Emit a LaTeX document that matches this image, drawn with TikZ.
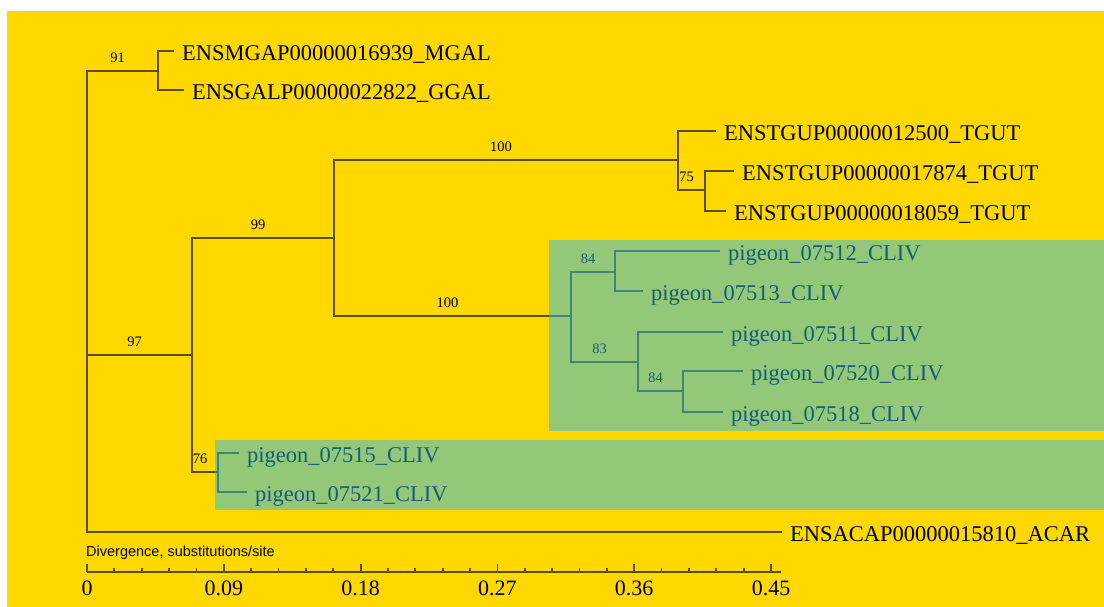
\documentclass[tikz,border=0pt]{standalone}
\usepackage{fontspec}
\setmainfont{Liberation Serif}
\newfontfamily\barfont{Liberation Sans}
\usetikzlibrary{positioning}

\definecolor{bgyellow}{RGB}{255,216,0}
\definecolor{hlblue}{RGB}{41,185,240}
\definecolor{brline}{RGB}{92,77,0}

\begin{document}
\begin{tikzpicture}[x=1pt,y=-1pt,
  branch/.style={draw=brline,line width=2.6pt,line cap=rect},
  leaf/.style={anchor=west,inner xsep=9pt,inner ysep=0pt,text height=19pt,text depth=0pt,font=\fontsize{22.5}{24}\selectfont},
  boot/.style={midway,above=6pt,xshift=-5pt,inner sep=1pt,font=\fontsize{14.5}{16}\selectfont},
  hl/.style={fill=hlblue,fill opacity=0.5},
  tickmark/.style={draw=brline,line width=1.8pt},
  ticklab/.style={inner sep=0pt,font=\fontsize{22}{24}\selectfont}
]
  % background
  \fill[white] (0,0) rectangle (1104,607);
  \fill[bgyellow] (7,11) rectangle (1104,607);

  % internal nodes
  \coordinate (r)     at (87,301);
  \coordinate (n91)   at (158,71);
  \coordinate (n97)   at (192,355);
  \coordinate (n99)   at (334,238);
  \coordinate (n100a) at (678,160);
  \coordinate (n75)   at (705,190);
  \coordinate (n100b) at (571,316);
  \coordinate (n84a)  at (615,272);
  \coordinate (n83)   at (638,362);
  \coordinate (n84b)  at (683,391);
  \coordinate (n76)   at (218,472);

  % leaves
  \node[leaf] (mgal)  at (173,51)  {ENSMGAP00000016939\_MGAL};
  \node[leaf] (ggal)  at (183,90)  {ENSGALP00000022822\_GGAL};
  \node[leaf] (tg1)   at (715,131) {ENSTGUP00000012500\_TGUT};
  \node[leaf] (tg2)   at (733,171) {ENSTGUP00000017874\_TGUT};
  \node[leaf] (tg3)   at (725,211) {ENSTGUP00000018059\_TGUT};
  \node[leaf] (pg512) at (719,251) {pigeon\_07512\_CLIV};
  \node[leaf] (pg513) at (642,291) {pigeon\_07513\_CLIV};
  \node[leaf] (pg511) at (722,332) {pigeon\_07511\_CLIV};
  \node[leaf] (pg520) at (742,371) {pigeon\_07520\_CLIV};
  \node[leaf] (pg518) at (722,412) {pigeon\_07518\_CLIV};
  \node[leaf] (pg515) at (238,453) {pigeon\_07515\_CLIV};
  \node[leaf] (pg521) at (246,492) {pigeon\_07521\_CLIV};
  \node[leaf] (acar)  at (781,532) {ENSACAP00000015810\_ACAR};

  % root
  \draw[branch] (r |- n91) -- (r |- acar);
  \draw[branch] (r |- n91) -- node[boot]{91} (n91);
  \draw[branch] (r |- n97) -- node[boot]{97} (n97);
  \draw[branch] (r |- acar) -- (acar.west);
  % chicken / turkey
  \draw[branch] (n91 |- mgal) -- (n91 |- ggal);
  \draw[branch] (n91 |- mgal) -- (mgal.west);
  \draw[branch] (n91 |- ggal) -- (ggal.west);
  % node 97
  \draw[branch] (n97 |- n99) -- (n97 |- n76);
  \draw[branch] (n97 |- n99) -- node[boot]{99} (n99);
  \draw[branch] (n97 |- n76) -- node[boot]{76} (n76);
  % node 99
  \draw[branch] (n99 |- n100a) -- (n99 |- n100b);
  \draw[branch] (n99 |- n100a) -- node[boot]{100} (n100a);
  \draw[branch] (n99 |- n100b) -- node[boot]{100} (n100b);
  % zebra finch
  \draw[branch] (n100a |- tg1) -- (n100a |- n75);
  \draw[branch] (n100a |- tg1) -- (tg1.west);
  \draw[branch] (n100a |- n75) -- node[boot]{75} (n75);
  \draw[branch] (n75 |- tg2) -- (n75 |- tg3);
  \draw[branch] (n75 |- tg2) -- (tg2.west);
  \draw[branch] (n75 |- tg3) -- (tg3.west);
  % pigeon clade
  \draw[branch] (n100b |- n84a) -- (n100b |- n83);
  \draw[branch] (n100b |- n84a) -- node[boot]{84} (n84a);
  \draw[branch] (n100b |- n83) -- node[boot]{83} (n83);
  \draw[branch] (n84a |- pg512) -- (n84a |- pg513);
  \draw[branch] (n84a |- pg512) -- (pg512.west);
  \draw[branch] (n84a |- pg513) -- (pg513.west);
  \draw[branch] (n83 |- pg511) -- (n83 |- n84b);
  \draw[branch] (n83 |- pg511) -- (pg511.west);
  \draw[branch] (n83 |- n84b) -- node[boot]{84} (n84b);
  \draw[branch] (n84b |- pg520) -- (n84b |- pg518);
  \draw[branch] (n84b |- pg520) -- (pg520.west);
  \draw[branch] (n84b |- pg518) -- (pg518.west);
  % node 76
  \draw[branch] (n76 |- pg515) -- (n76 |- pg521);
  \draw[branch] (n76 |- pg515) -- (pg515.west);
  \draw[branch] (n76 |- pg521) -- (pg521.west);

  % highlighted pigeon groups
  \fill[hl] (549,240) rectangle (1104,431);
  \fill[hl] (215,440) rectangle (1104,510);

  % scale bar
  \node[anchor=west,inner sep=0pt,font=\barfont\fontsize{14.5}{16}\selectfont] (dlab) at (86,553) {Divergence, substitutions/site};
  \draw[tickmark,line width=2.6pt] (87,572) -- (781,572);
  \foreach \i in {0,...,25}
    \draw[tickmark] ({87+27.36*\i},572) -- ++(0,-4);
  \foreach \v [count=\k from 0] in {0,0.09,0.18,0.27,0.36,0.45} {
    \draw[tickmark] ({87+136.8*\k},572) -- ++(0,-8);
    \node[ticklab] (t\k) at ({87+136.8*\k},588) {\v};
  }
\end{tikzpicture}
\end{document}
